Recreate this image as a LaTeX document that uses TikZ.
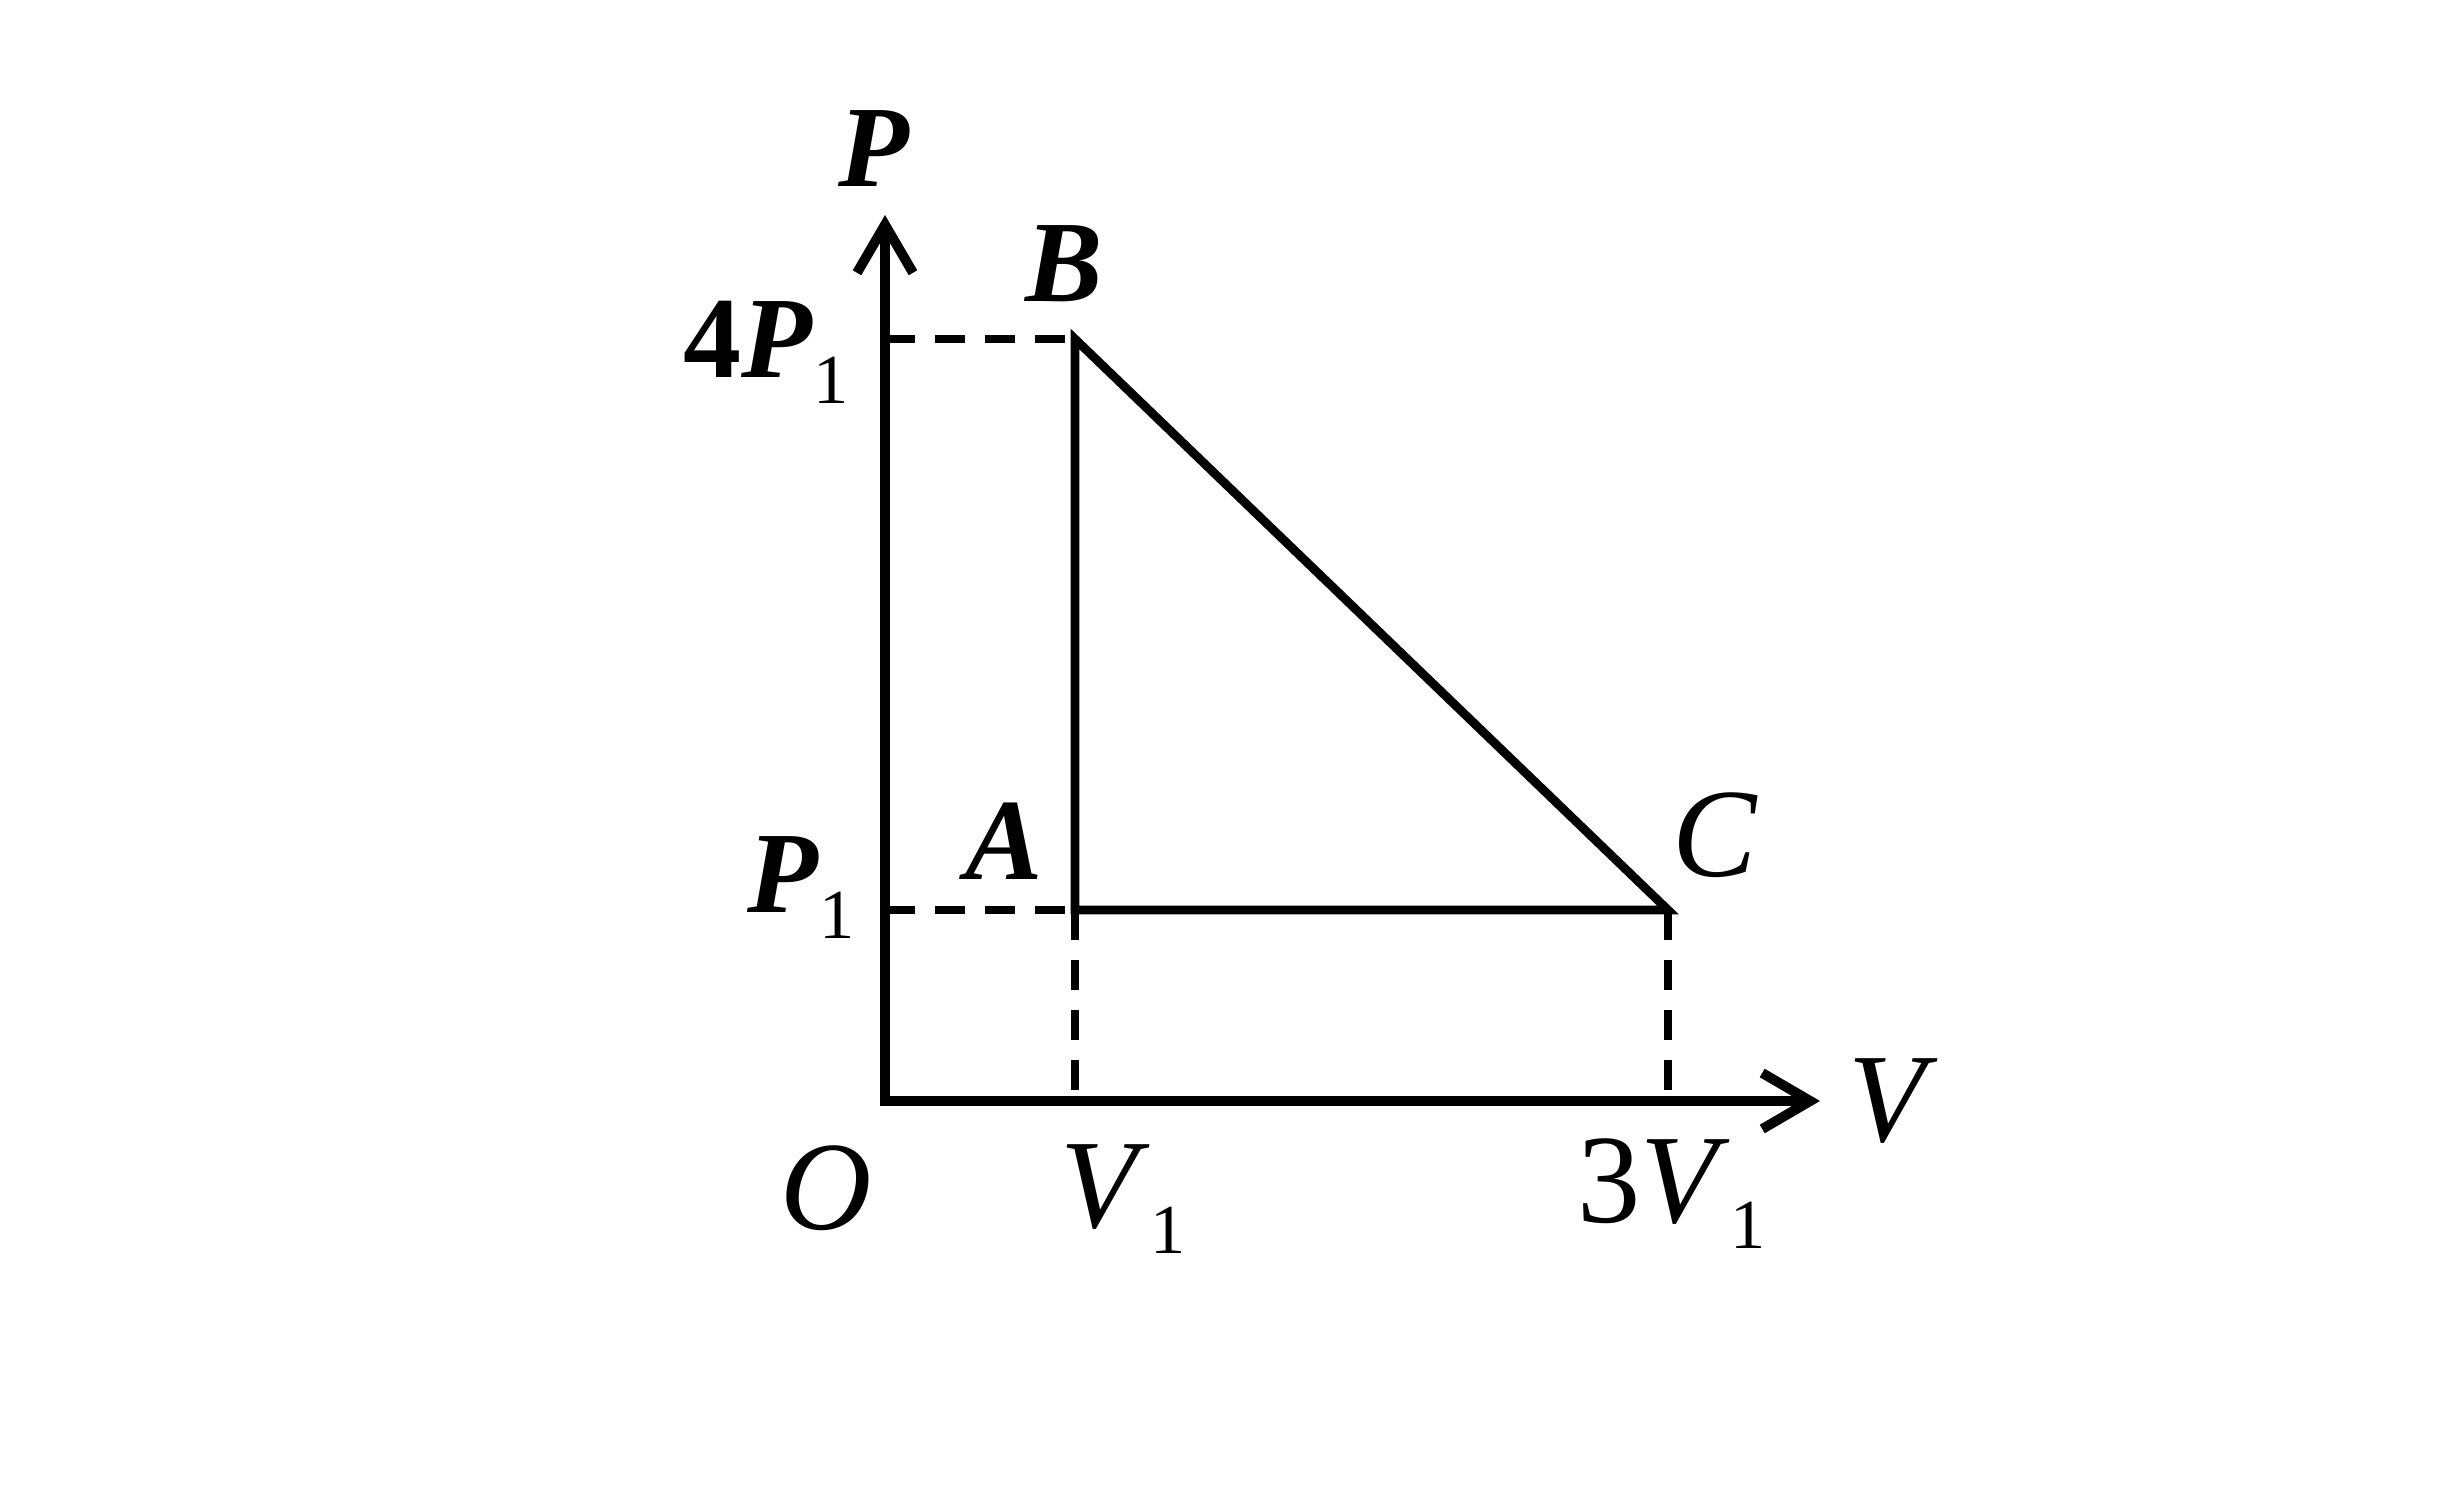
\documentclass[tikz,border=0pt]{standalone}
\usepackage{fontspec}
\setmainfont{Liberation Serif}
\usetikzlibrary{arrows.meta}
\newcommand{\bigit}[1]{\fontsize{36}{40}\selectfont\textit{#1}}
\newcommand{\boldit}[1]{\fontsize{33}{38}\selectfont\textbf{\textit{#1}}}
\newcommand{\subone}{\raisebox{-0.26cm}{\fontsize{20}{22}\selectfont 1}}
\tikzset{
	axisline/.style={line width=2.8pt, line join=miter,
		{Straight Barb[length=0.48cm, width=0.56cm, line width=2.8pt]}-{Straight Barb[length=0.48cm, width=0.56cm, line width=2.8pt]}},
	pathline/.style={line width=2.5pt, line join=miter},
	helpline/.style={line width=2.2pt, dash pattern=on 0.3cm off 0.2cm},
	lab/.style={inner sep=0pt, anchor=base west}
}
\begin{document}
\begin{tikzpicture}
			%%%%% START %%%%%
			\useasboundingbox (0, 0) rectangle (24.64, 14.86);
			
			\coordinate (O) at (8.85, 3.85);
			\coordinate (Ptip) at (8.85, 12.71);
			\coordinate (Vtip) at (18.20, 3.85);
			\coordinate (A) at (10.75, 5.76);
			\coordinate (B) at (10.75, 11.47);
			\coordinate (C) at (16.68, 5.76);
			
			\draw[axisline] (Ptip) -- (O) -- (Vtip);
			
			\draw[helpline] (O |- B) -- (B);
			\draw[helpline] (O |- A) -- (A);
			\draw[helpline] (A) -- (A |- O);
			\draw[helpline] (C) -- (C |- O);
			
			\draw[pathline] (A) -- (B) -- (C) -- cycle;
			
			\node[lab] (Plab) at (8.38, 12.99) {\boldit{P}};
			\node[lab] (Vlab) at (18.48, 3.44) {\bigit{V}};
			\node[lab] (Olab) at (7.80, 2.56) {\bigit{O}};
			
			\node[lab] (Alab) at (9.65, 6.06) {\boldit{A}};
			\node[lab] (Blab) at (10.25, 11.84) {\boldit{B}};
			\node[lab] (Clab) at (16.72, 6.09) {\bigit{C}};
			
			\node[lab] (fourP) at (6.83, 11.08) {\fontsize{33}{38}\selectfont\textbf{4}\textbf{\textit{P}}\subone};
			\node[lab] (oneP) at (7.47, 5.73) {\boldit{P}\subone};
			\node[lab] (oneV) at (10.60, 2.58) {\bigit{V}\subone};
			\node[lab] (threeV) at (15.77, 2.63) {\fontsize{36}{40}\selectfont 3\textit{V}\subone};
			
			%%%%% END %%%%%
\end{tikzpicture}
\end{document}
